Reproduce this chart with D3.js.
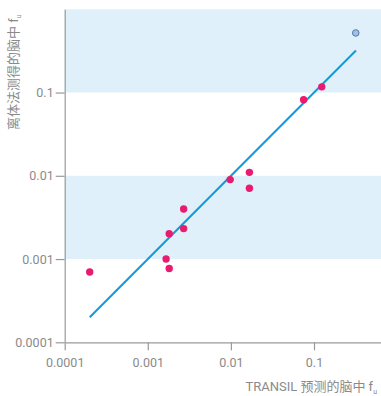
<!DOCTYPE html>
<html>
<head>
<meta charset="utf-8">
<script src="https://cdn.jsdelivr.net/npm/d3@7"></script>
<style>
  html, body { margin: 0; padding: 0; background: #fff; }
  svg { display: block; }
  text { font-family: Roboto, "Noto Sans CJK SC", sans-serif; fill: #8a8a8a; }
</style>
</head>
<body>
<svg id="chart" width="381" height="396"></svg>
<script>
// Predicted (TRANSIL) vs measured (in vitro) unbound brain fraction
const predicted = [0.0002, 0.00166, 0.00181, 0.00181, 0.0027, 0.0027, 0.0098, 0.0167, 0.0167, 0.075, 0.124];
const measured  = [0.0007, 0.001,   0.00077, 0.00202, 0.00232, 0.004, 0.009, 0.011,  0.0071, 0.082, 0.117];
const outlierX = [0.318];
const outlierY = [0.52];
const lineX = [0.0002, 0.32];
const lineY = [0.0002, 0.32];
const tickValues = [0.0001, 0.001, 0.01, 0.1];
const tickLabels = ["0.0001", "0.001", "0.01", "0.1"];
const bands = [[0.1, 1], [0.001, 0.01]];

const svg = d3.select("#chart");
const plot = { left: 64.7, right: 381, top: 9.3, bottom: 342.3 };

const x = d3.scaleLog().domain([0.0001, 0.64]).range([plot.left, plot.right]);
const y = d3.scaleLog().domain([0.0001, 1]).range([plot.bottom, plot.top]);

// shaded decade bands
svg.append("g").selectAll("rect").data(bands).join("rect")
  .attr("x", plot.left)
  .attr("width", plot.right - plot.left)
  .attr("y", d => y(d[1]))
  .attr("height", d => y(d[0]) - y(d[1]))
  .attr("fill", "#dff0fa");

// axes
const fmt = d => tickLabels[tickValues.indexOf(d)];
const xAxis = svg.append("g")
  .attr("transform", `translate(0,${plot.bottom})`)
  .call(d3.axisBottom(x).tickValues(tickValues).tickFormat(fmt).tickSize(8).tickSizeOuter(0));
const yAxis = svg.append("g")
  .attr("transform", `translate(${plot.left},0)`)
  .call(d3.axisLeft(y).tickValues(tickValues).tickFormat(fmt).tickSize(9).tickSizeOuter(0));

[xAxis, yAxis].forEach(g => {
  g.select(".domain").attr("stroke", "#9a9a9a").attr("stroke-width", 1.2);
  g.selectAll(".tick line").attr("stroke", "#9a9a9a").attr("stroke-width", 1.2);
  g.selectAll(".tick text").attr("fill", "#8a8a8a")
    .style("font-family", "Roboto, sans-serif").style("font-size", "12.5px");
});
xAxis.selectAll(".tick text").attr("dy", "1.1em");
yAxis.selectAll(".tick text").attr("x", -11);

// identity line
svg.append("line")
  .attr("x1", x(lineX[0])).attr("y1", y(lineY[0]))
  .attr("x2", x(lineX[1])).attr("y2", y(lineY[1]))
  .attr("stroke", "#109bd8").attr("stroke-width", 2);

// compounds
svg.append("g").selectAll("circle").data(predicted).join("circle")
  .attr("cx", d => x(d))
  .attr("cy", (d, i) => y(measured[i]))
  .attr("r", 3.7)
  .attr("fill", "#ea1a6e");

svg.append("g").selectAll("circle").data(outlierX).join("circle")
  .attr("cx", d => x(d))
  .attr("cy", (d, i) => y(outlierY[i]))
  .attr("r", 3.3)
  .attr("fill", "#9ebfe8")
  .attr("stroke", "#5577aa")
  .attr("stroke-width", 1);

// axis titles
const xt = svg.append("text")
  .attr("x", 377).attr("y", 391)
  .attr("text-anchor", "end")
  .style("font-size", "13px");
xt.append("tspan").text("TRANSIL 预测的脑中 f");
xt.append("tspan").attr("dy", 2.5).style("font-size", "7px").text("u");

const yt = svg.append("text")
  .attr("transform", "translate(18,130) rotate(-90)")
  .attr("text-anchor", "start")
  .style("font-size", "13px");
yt.append("tspan").text("离体法测得的脑中 f");
yt.append("tspan").attr("dy", 2.5).style("font-size", "7px").text("u");
</script>
</body>
</html>
